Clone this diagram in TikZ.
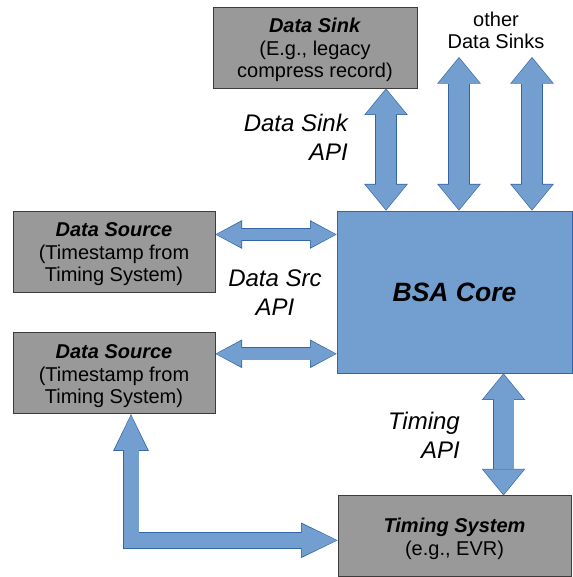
\documentclass[tikz,border=0pt]{standalone}
\usepackage{fontspec}
\setmainfont{Liberation Sans}
\usepackage{tikz}
\usetikzlibrary{arrows.meta,positioning}

\definecolor{arrowblue}{HTML}{729FCF}
\definecolor{arrowline}{HTML}{3465A4}
\definecolor{boxgray}{HTML}{999999}
\definecolor{boxline}{HTML}{3C3C3C}
\newcommand{\boxtitle}[1]{\rule{0pt}{20pt}\textbf{\textit{#1}}}

\begin{document}
\begin{tikzpicture}[x=1pt, y=1pt,
	box/.style={draw=boxline, fill=boxgray, line width=0.8pt, inner sep=0pt, align=center,
		minimum height=81pt, font=\fontsize{20}{22.5}\selectfont},
	api/.style={inner sep=0pt, font=\itshape\fontsize{24}{29}\selectfont},
	fat/.style n args={3}{
		preaction={draw=arrowline, line width=#1+1.6pt, shorten >=0pt, shorten <=0pt,
			arrows={Triangle[width=#2+2.6pt, length=#3+1.6pt, line width=0pt]-Triangle[width=#2+2.6pt, length=#3+1.6pt, line width=0pt]}},
		draw=arrowblue, line width=#1, shorten >=1pt, shorten <=1pt,
		arrows={Triangle[width=#2, length=#3, line width=0pt]-Triangle[width=#2, length=#3, line width=0pt]}},
	bigarrow/.style={fat={20pt}{41pt}{25pt}},
	srcarrow/.style={fat={11.5pt}{26pt}{25pt}},
	lowarrow/.style={fat={15pt}{33pt}{35pt}}]
	\useasboundingbox (0,0) rectangle (572,577);

	% Nodes {core, sink, sources, timing}
	\node [draw=arrowline, fill=arrowblue, line width=0.8pt, minimum width=235pt, minimum height=162pt,
		font=\bfseries\itshape\fontsize{26.5}{30}\selectfont] (core) at (454.5,285) {BSA Core};
	\node [box, minimum width=204pt] (sink) at (315,529.5)
		{\boxtitle{Data Sink}\\(E.g., legacy\\compress record)};
	\node [box, minimum width=202pt] (src1) at (114,325.5)
		{\boxtitle{Data Source}\\(Timestamp from\\Timing System)};
	\node [box, minimum width=202pt] (src2) [below=40pt of src1]
		{\boxtitle{Data Source}\\(Timestamp from\\Timing System)};
	\node [box, minimum width=233pt] (timing) [below=122pt of core]
		{\boxtitle{Timing System}\\(e.g., EVR)};

	% Labels
	\node [api, align=right, anchor=east] (sinkapi) at (348,440) {Data Sink\\API};
	\node [api, align=center] (srcapi) at (275,284.5) {Data Src\\API};
	\node [api, align=right, anchor=east] (timeapi) at (460,142) {Timing\\API};
	\node [align=center, inner sep=0pt, font=\fontsize{20}{22}\selectfont] (others) at (496,547) {other\\Data Sinks};
	\coordinate (o1) at (459,520);
	\coordinate (o2) at (532,520);

	% Arrows
	\draw [bigarrow] ([xshift=71pt]sink.south) -- ([xshift=71pt]sink.south |- core.north);
	\draw [bigarrow] (o1) -- (o1 |- core.north);
	\draw [bigarrow] (o2) -- (o2 |- core.north);
	\draw [srcarrow] ([yshift=17pt]src1.east) -- ([yshift=17pt]src1.east -| core.west);
	\draw [srcarrow] ([yshift=19.5pt]src2.east) -- ([yshift=19.5pt]src2.east -| core.west);
	\draw [bigarrow] ([xshift=49pt]core.south) -- ([xshift=49pt]core.south |- timing.north);
	\draw [lowarrow] ([xshift=17pt]src2.south) |- ([yshift=-4pt]timing.west);
\end{tikzpicture}
\end{document}
